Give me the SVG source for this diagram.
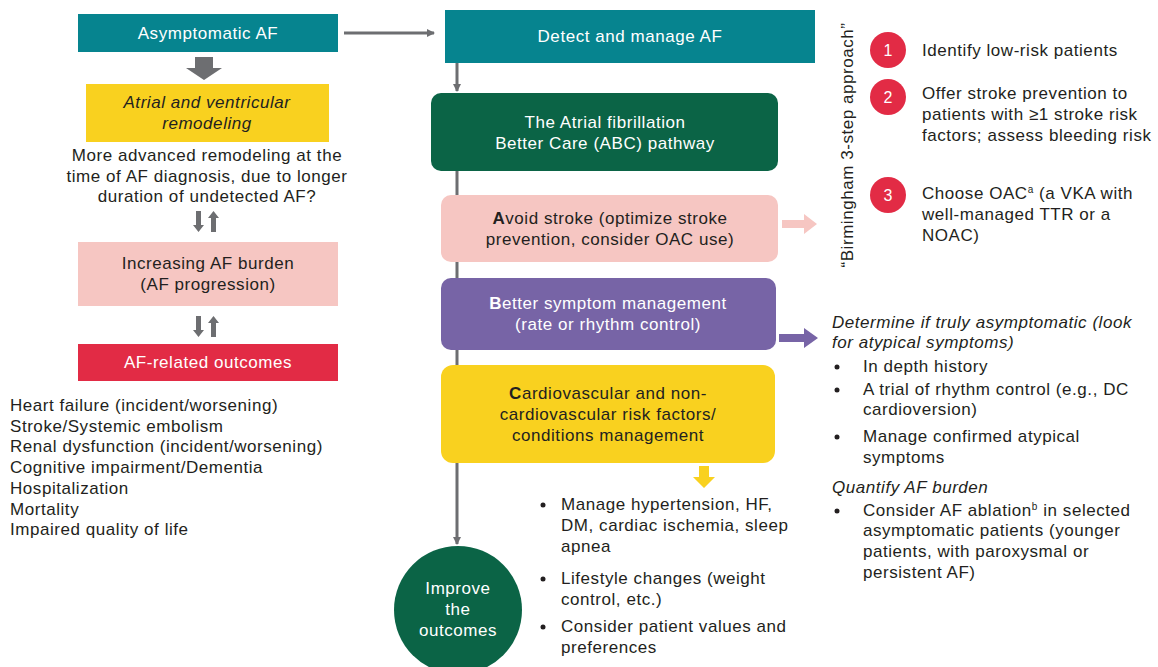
<svg xmlns="http://www.w3.org/2000/svg" width="1158" height="667" viewBox="0 0 1158 667">
<defs>
<style>
text{font-family:"Liberation Sans",Arial,sans-serif;font-size:17px;letter-spacing:0.55px;fill:#231f20}
.w{fill:#fff}
.c{text-anchor:middle}
.i{font-style:italic}
.g{fill:#6d6e71}
.n{font-size:16px;letter-spacing:0}
</style>
<marker id="ah" markerWidth="8" markerHeight="8" refX="7" refY="4" orient="auto" markerUnits="userSpaceOnUse">
<path d="M0,0 L8,4 L0,8 Z" fill="#6d6e71"/>
</marker>
<g id="dbl">
<path class="g" d="M-10,0 h5 v14 h3 l-5.5,7 l-5.5,-7 h3 z"/>
<path class="g" d="M5,21 h5 v-14 h3 l-5.5,-7 l-5.5,7 h3 z"/>
</g>
</defs>
<rect width="1158" height="667" fill="#fff"/>

<g id="connectors">
<line x1="344" y1="33" x2="434" y2="33" stroke="#6d6e71" stroke-width="3" marker-end="url(#ah)"/>
<path class="g" d="M195,57 h18 v11 h9 l-18,12 l-18,-12 h9 z"/>
<use href="#dbl" x="206" y="211"/>
<use href="#dbl" x="206" y="316"/>
<line x1="457" y1="63" x2="457" y2="91" stroke="#6d6e71" stroke-width="3" marker-end="url(#ah)"/>
<line x1="457" y1="171" x2="457" y2="544" stroke="#6d6e71" stroke-width="3" marker-end="url(#ah)"/>
<path d="M782,220 h22 v-6 l13,10 l-13,10 v-6 h-22 z" fill="#f6c6c2"/>
<path d="M779,334 h25 v-6 l14,10 l-14,10 v-6 h-25 z" fill="#7764a6"/>
<path d="M699,466 h10 v11 h6 l-11,11 l-11,-11 h6 z" fill="#f9d11f"/>
</g>

<g id="asymptomatic">
<rect x="78" y="14" width="260" height="38" fill="#06848f"/>
<text class="w c" x="208" y="39">Asymptomatic AF</text>
</g>
<g id="remodeling">
<rect x="86" y="84" width="243" height="58" fill="#f9d11f"/>
<text class="c i" x="207" y="108">Atrial and ventricular</text>
<text class="c i" x="207" y="129">remodeling</text>
</g>
<g id="remodeling-note">
<text class="c" x="207" y="161">More advanced remodeling at the</text>
<text class="c" x="207" y="182">time of AF diagnosis, due to longer</text>
<text class="c" x="207" y="202">duration of undetected AF?</text>
</g>
<g id="burden">
<rect x="78" y="242" width="260" height="64" fill="#f6c6c2"/>
<text class="c" x="208" y="269">Increasing AF burden</text>
<text class="c" x="208" y="290">(AF progression)</text>
</g>
<g id="outcomes">
<rect x="78" y="344" width="260" height="37" fill="#e22b45"/>
<text class="w c" x="208" y="368">AF-related outcomes</text>
</g>
<g id="outcome-list">
<text x="10" y="411">Heart failure (incident/worsening)</text>
<text x="10" y="432">Stroke/Systemic embolism</text>
<text x="10" y="452">Renal dysfunction (incident/worsening)</text>
<text x="10" y="473">Cognitive impairment/Dementia</text>
<text x="10" y="494">Hospitalization</text>
<text x="10" y="515">Mortality</text>
<text x="10" y="535">Impaired quality of life</text>
</g>

<g id="detect">
<rect x="445" y="10" width="370" height="53" fill="#06848f"/>
<text class="w c" x="630" y="42">Detect and manage AF</text>
</g>
<g id="abc">
<rect x="431" y="93" width="347" height="78" rx="10" fill="#0b6446"/>
<text class="w c" x="605" y="128">The Atrial fibrillation</text>
<text class="w c" x="605" y="149">Better Care (ABC) pathway</text>
</g>
<g id="avoid">
<rect x="441" y="195" width="337" height="67" rx="10" fill="#f6c6c2"/>
<text class="c" x="610" y="224"><tspan font-weight="bold">A</tspan>void stroke (optimize stroke</text>
<text class="c" x="610" y="245">prevention, consider OAC use)</text>
</g>
<g id="better">
<rect x="441" y="278" width="335" height="72" rx="10" fill="#7764a6"/>
<text class="w c" x="608" y="309"><tspan font-weight="bold">B</tspan>etter symptom management</text>
<text class="w c" x="608" y="330">(rate or rhythm control)</text>
</g>
<g id="cardio">
<rect x="441" y="365" width="334" height="98" rx="12" fill="#f9d11f"/>
<text class="c" x="608" y="399"><tspan font-weight="bold">C</tspan>ardiovascular and non-</text>
<text class="c" x="608" y="420">cardiovascular risk factors/</text>
<text class="c" x="608" y="441">conditions management</text>
</g>
<g id="cardio-list">
<circle cx="543" cy="505" r="2.5" fill="#231f20"/>
<text x="561" y="510">Manage hypertension, HF,</text>
<text x="561" y="531">DM, cardiac ischemia, sleep</text>
<text x="561" y="552">apnea</text>
<circle cx="543" cy="579" r="2.5" fill="#231f20"/>
<text x="561" y="584">Lifestyle changes (weight</text>
<text x="561" y="605">control, etc.)</text>
<circle cx="543" cy="627" r="2.5" fill="#231f20"/>
<text x="561" y="632">Consider patient values and</text>
<text x="561" y="653">preferences</text>
</g>
<g id="improve">
<circle cx="458" cy="610" r="64" fill="#0b6446"/>
<text class="w c" x="458" y="594">Improve</text>
<text class="w c" x="458" y="615">the</text>
<text class="w c" x="458" y="636">outcomes</text>
</g>

<g id="birmingham">
<text class="c" transform="translate(853,145) rotate(-90)">“Birmingham 3-step approach”</text>
<circle cx="888" cy="50" r="18" fill="#e22b45"/>
<text class="w c n" x="888" y="56">1</text>
<text x="922" y="56">Identify low-risk patients</text>
<circle cx="888" cy="97" r="18" fill="#e22b45"/>
<text class="w c n" x="888" y="103">2</text>
<text x="922" y="99">Offer stroke prevention to</text>
<text x="922" y="120">patients with ≥1 stroke risk</text>
<text x="922" y="141">factors; assess bleeding risk</text>
<circle cx="888" cy="195" r="18" fill="#e22b45"/>
<text class="w c n" x="888" y="201">3</text>
<text x="922" y="199">Choose OAC<tspan font-size="10" dy="-6">a</tspan><tspan dy="6"> (a VKA with</tspan></text>
<text x="922" y="220">well-managed TTR or a</text>
<text x="922" y="241">NOAC)</text>
</g>

<g id="symptom-list">
<text class="i" x="832" y="328">Determine if truly asymptomatic (look</text>
<text class="i" x="832" y="348">for atypical symptoms)</text>
<circle cx="837" cy="367" r="2.5" fill="#231f20"/>
<text x="863" y="372">In depth history</text>
<circle cx="837" cy="390" r="2.5" fill="#231f20"/>
<text x="863" y="395">A trial of rhythm control (e.g., DC</text>
<text x="863" y="415">cardioversion)</text>
<circle cx="837" cy="437" r="2.5" fill="#231f20"/>
<text x="863" y="442">Manage confirmed atypical</text>
<text x="863" y="463">symptoms</text>
<text class="i" x="832" y="493">Quantify AF burden</text>
<circle cx="837" cy="511" r="2.5" fill="#231f20"/>
<text x="863" y="516">Consider AF ablation<tspan font-size="10" dy="-6">b</tspan><tspan dy="6"> in selected</tspan></text>
<text x="863" y="536">asymptomatic patients (younger</text>
<text x="863" y="557">patients, with paroxysmal or</text>
<text x="863" y="578">persistent AF)</text>
</g>
</svg>
